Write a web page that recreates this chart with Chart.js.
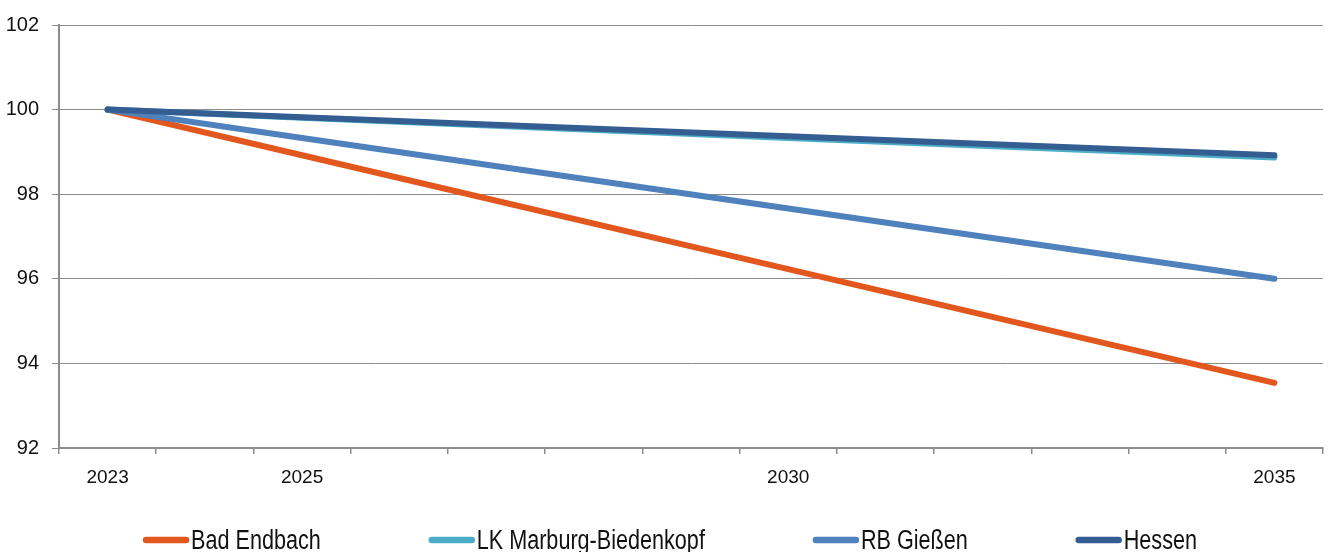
<!DOCTYPE html>
<html>
<head>
<meta charset="utf-8">
<script src="https://cdn.jsdelivr.net/npm/chart.js@4.4.1/dist/chart.umd.min.js"></script>
<style>
    html, body { margin: 0; padding: 0; background: #fff; }
    #wrap { width: 1332px; height: 552px; position: relative; }
</style>
</head>
<body>
<div id="wrap"><canvas id="myChart"></canvas></div>
<script>
// years on the x axis, only some get a label
const years = ['2023','2024','2025','2026','2027','2028','2029','2030','2031','2032','2033','2034','2035'];
const shownYears = ['2023','2025','2030','2035'];

// index values (2023 = 100), read at the labelled years
const badEndbach   = [100, null, 98.92, null, null, null, null, 96.23, null, null, null, null, 93.54];
const lkMarburg    = [100, null, 99.81, null, null, null, null, 99.33, null, null, null, null, 98.87];
const rbGiessen    = [100, null, 99.33, null, null, null, null, 97.66, null, null, null, null, 96.0];
const hessen       = [100, null, 99.82, null, null, null, null, 99.37, null, null, null, null, 98.92];

const seriesNames  = ['Bad Endbach', 'LK Marburg-Biedenkopf', 'RB Gießen', 'Hessen'];
const seriesColors = ['#E2571E', '#4BACC6', '#4F81BD', '#345E92'];

const yTicks = [92, 94, 96, 98, 100, 102];

const FONT = '"Liberation Sans", Arial, sans-serif';
const gridGrey = '#8c8c8c';

// legend drawn by hand: line sample right next to the text, wide gaps between items.
// the text is squeezed sideways a bit to get the tall narrow look of the original
const lineLegend = {
    id: 'lineLegend',
    afterDraw(chart) {
        const ctx = chart.ctx;
        const sets = chart.data.datasets;
        const lineLen = 46, gap = 2, space = 108, squeeze = 0.8;
        ctx.save();
        ctx.font = '27px ' + FONT;
        const widths = sets.map(d => lineLen + gap + ctx.measureText(d.label).width * squeeze);
        const total = widths.reduce((a, b) => a + b, 0) + space * (sets.length - 1);
        let x = (chart.width - total) / 2 + 4;
        const yLine = 540, yText = 549;
        sets.forEach((d, i) => {
            ctx.strokeStyle = d.borderColor;
            ctx.lineWidth = 6.5;
            ctx.lineCap = 'round';
            ctx.beginPath();
            ctx.moveTo(x + 3, yLine);
            ctx.lineTo(x + lineLen - 3, yLine);
            ctx.stroke();
            ctx.save();
            ctx.translate(x + lineLen + gap, yText);
            ctx.scale(squeeze, 1);
            ctx.fillStyle = '#111';
            ctx.textAlign = 'left';
            ctx.textBaseline = 'alphabetic';
            ctx.fillText(d.label, 0, 0);
            ctx.restore();
            x += widths[i] + space;
        });
        ctx.restore();
    }
};

const allSeries = [badEndbach, lkMarburg, rbGiessen, hessen];

const data = {
    labels: years,
    datasets: allSeries.map((vals, i) => ({
        label: seriesNames[i],
        data: vals,
        borderColor: seriesColors[i],
        backgroundColor: seriesColors[i],
        borderWidth: 6,
        borderCapStyle: 'round',
        borderJoinStyle: 'round',
        pointRadius: 0,
        spanGaps: true,
        tension: 0,
        order: seriesNames.length - i   // Hessen on top
    }))
};

const config = {
    type: 'line',
    data: data,
    plugins: [lineLegend],
    options: {
        responsive: true,
        maintainAspectRatio: false,
        animation: false,
        layout: { padding: { top: 20, right: 9, left: 0, bottom: 0 } },
        scales: {
            x: {
                offset: true,
                grid: {
                    offset: true,
                    drawOnChartArea: false,
                    drawTicks: true,
                    tickLength: 6,
                    color: gridGrey,
                    lineWidth: 1.5
                },
                border: { display: true, color: gridGrey, width: 2 },
                ticks: {
                    autoSkip: false,
                    maxRotation: 0,
                    padding: 12,
                    color: '#111',
                    font: { family: FONT, size: 19 },
                    callback: function (v) {
                        const lab = this.getLabelForValue(v);
                        return shownYears.includes(lab) ? lab : '';
                    }
                },
                afterFit: s => { s.height = 104; }
            },
            y: {
                min: yTicks[0],
                max: yTicks[yTicks.length - 1],
                afterBuildTicks: s => { s.ticks = yTicks.map(v => ({ value: v })); },
                grid: {
                    color: gridGrey,
                    lineWidth: 1,
                    tickLength: 7,
                    drawTicks: true
                },
                border: { display: true, color: gridGrey, width: 2 },
                ticks: {
                    padding: 13,
                    color: '#111',
                    font: { family: FONT, size: 20 }
                },
                afterFit: s => { s.width = 59; }
            }
        },
        plugins: {
            legend: { display: false },
            title: { display: false },
            tooltip: { enabled: false }
        }
    }
};

new Chart(document.getElementById('myChart'), config);
</script>
</body>
</html>
